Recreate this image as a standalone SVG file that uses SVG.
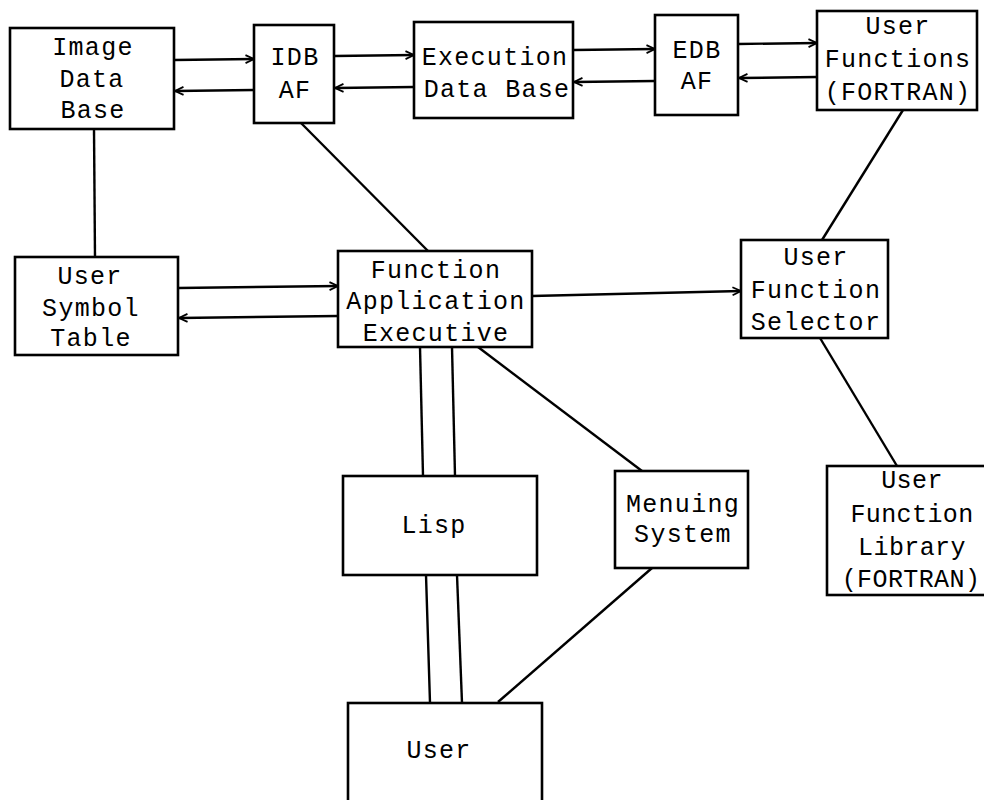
<svg xmlns="http://www.w3.org/2000/svg" width="984" height="800" viewBox="0 0 984 800">
<defs>
<marker id="ah" viewBox="0 0 10 10" refX="9.5" refY="5" markerWidth="10" markerHeight="10" markerUnits="userSpaceOnUse" orient="auto">
<path d="M1,1 L9.5,5 L1,9" fill="none" stroke="#000" stroke-width="1.8"/>
</marker>
</defs>
<style>
.box{fill:#fff;stroke:#000;stroke-width:2.6}
.ln{fill:none;stroke:#000;stroke-width:2.4}
.ar{fill:none;stroke:#000;stroke-width:2.4;marker-end:url(#ah)}
text{font-family:"Liberation Mono","Courier New",monospace;font-size:25px;fill:#000;text-anchor:middle;letter-spacing:1.3px}
#user-function-library text{letter-spacing:0.4px}
</style>
<rect width="984" height="800" fill="#fff"/>
<g id="connectors">
<line class="ln" x1="94" y1="129" x2="95" y2="257"/>
<line class="ln" x1="301" y1="123" x2="428" y2="251"/>
<line class="ln" x1="903" y1="110" x2="822" y2="240"/>
<line class="ln" x1="820" y1="338" x2="897" y2="466"/>
<line class="ln" x1="420" y1="347" x2="423" y2="476"/>
<line class="ln" x1="452" y1="347" x2="455" y2="476"/>
<line class="ln" x1="426" y1="575" x2="430" y2="703"/>
<line class="ln" x1="457" y1="575" x2="462" y2="703"/>
<line class="ln" x1="478" y1="347" x2="642" y2="471"/>
<line class="ln" x1="652" y1="568" x2="498" y2="702"/>
<line class="ar" x1="174" y1="60" x2="254" y2="59"/>
<line class="ar" x1="254" y1="90" x2="175" y2="91"/>
<line class="ar" x1="334" y1="56" x2="414" y2="55"/>
<line class="ar" x1="414" y1="87" x2="335" y2="88"/>
<line class="ar" x1="573" y1="50" x2="655" y2="49"/>
<line class="ar" x1="655" y1="81" x2="574" y2="82"/>
<line class="ar" x1="738" y1="44" x2="817" y2="43"/>
<line class="ar" x1="817" y1="77" x2="739" y2="78"/>
<line class="ar" x1="178" y1="288" x2="338" y2="286"/>
<line class="ar" x1="338" y1="316" x2="179" y2="318"/>
<line class="ar" x1="532" y1="296" x2="741" y2="291"/>
</g>
<g id="image-data-base">
<rect class="box" x="10" y="28" width="164" height="101"/>
<text x="93" y="55">Image</text>
<text x="92" y="87">Data</text>
<text x="93" y="118">Base</text>
</g>
<g id="idb-af">
<rect class="box" x="254" y="25" width="80" height="98"/>
<text x="295" y="65">IDB</text>
<text x="295" y="98">AF</text>
</g>
<g id="execution-data-base">
<rect class="box" x="414" y="22" width="159" height="96"/>
<text x="495" y="65">Execution</text>
<text x="497" y="97">Data Base</text>
</g>
<g id="edb-af">
<rect class="box" x="655" y="15" width="83" height="100"/>
<text x="697" y="58">EDB</text>
<text x="697" y="89">AF</text>
</g>
<g id="user-functions">
<rect class="box" x="817" y="11" width="160" height="99"/>
<text x="898" y="34">User</text>
<text x="898" y="67">Functions</text>
<text x="898" y="100">(FORTRAN)</text>
</g>
<g id="user-symbol-table">
<rect class="box" x="15" y="257" width="163" height="98"/>
<text x="90" y="284">User</text>
<text x="91" y="316">Symbol</text>
<text x="91" y="346">Table</text>
</g>
<g id="function-application-executive">
<rect class="box" x="338" y="251" width="194" height="96"/>
<text x="436" y="278">Function</text>
<text x="436" y="309">Application</text>
<text x="436" y="341">Executive</text>
</g>
<g id="user-function-selector">
<rect class="box" x="741" y="240" width="147" height="98"/>
<text x="816" y="265">User</text>
<text x="816" y="298">Function</text>
<text x="816" y="330">Selector</text>
</g>
<g id="lisp">
<rect class="box" x="343" y="476" width="194" height="99"/>
<text x="434" y="533">Lisp</text>
</g>
<g id="menuing-system">
<rect class="box" x="615" y="471" width="133" height="97"/>
<text x="683" y="512">Menuing</text>
<text x="683" y="542">System</text>
</g>
<g id="user-function-library">
<rect class="box" x="827" y="466" width="160" height="129"/>
<text x="912" y="488">User</text>
<text x="912" y="522">Function</text>
<text x="912" y="555">Library</text>
<text x="911" y="587">(FORTRAN)</text>
</g>
<g id="user">
<rect class="box" x="348" y="703" width="194" height="99"/>
<text x="439" y="758">User</text>
</g>
</svg>
